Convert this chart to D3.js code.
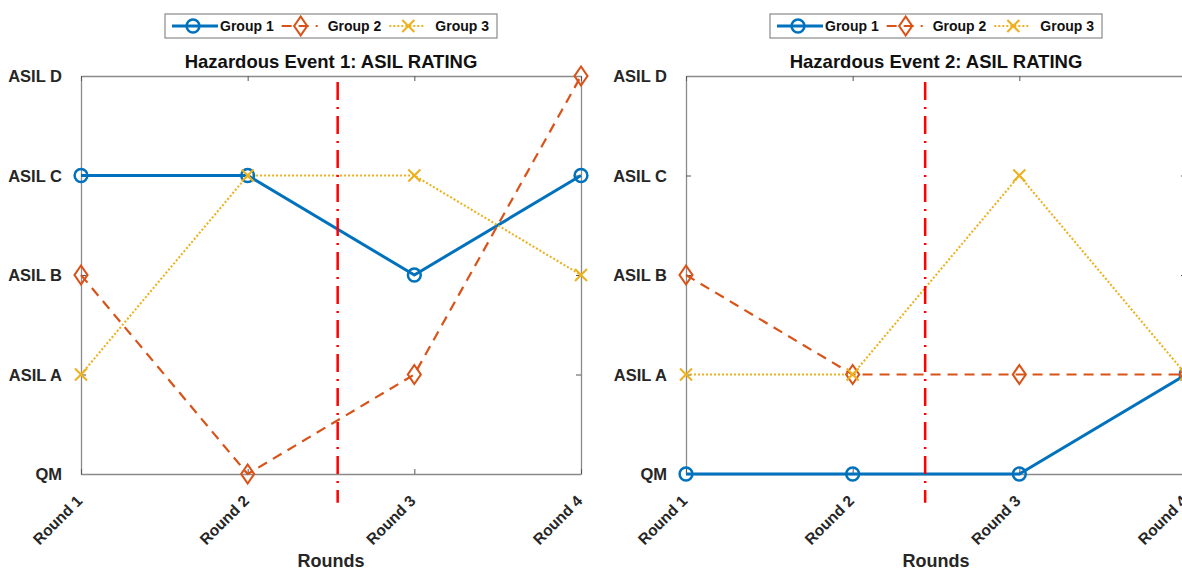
<!DOCTYPE html>
<html>
<head>
<meta charset="utf-8">
<script src="https://cdn.jsdelivr.net/npm/d3@7"></script>
<style>
  html, body { margin: 0; padding: 0; background: #fff; }
  svg { display: block; font-family: "Liberation Sans", Arial, Helvetica, sans-serif; }
</style>
</head>
<body>
<svg id="chart" width="1182" height="570"></svg>
<script>
// Rating levels (0 = QM ... 4 = ASIL D) and round labels
const ratingLabels = ["QM", "ASIL A", "ASIL B", "ASIL C", "ASIL D"];
const rounds = ["Round 1", "Round 2", "Round 3", "Round 4"];
const groupNames = ["Group 1", "Group 2", "Group 3"];

// Hazardous Event 1 ratings per round
const event1Group1 = [3, 3, 2, 3];
const event1Group2 = [2, 0, 1, 4];
const event1Group3 = [1, 3, 3, 2];

// Hazardous Event 2 ratings per round
const event2Group1 = [0, 0, 0, 1];
const event2Group2 = [2, 1, 1, 1];
const event2Group3 = [1, 1, 3, 1];

const titles = ["Hazardous Event 1: ASIL RATING", "Hazardous Event 2: ASIL RATING"];
const xAxisLabel = "Rounds";
// Divider between round 2 and round 3 (x position per panel, vertical extent in rating units)
const dividerX = [2.54, 2.435];
const dividerSpan = [-0.29, 3.94];

const colors = ["#0072BD", "#D95319", "#EDB120"];
const textColor = "#262626";
const boxColor = "#8a8a8a";

const panels = [
  { left: 81, right: 581, legendX: 165, series: [event1Group1, event1Group2, event1Group3], title: titles[0], divider: dividerX[0] },
  { left: 686, right: 1186, legendX: 770, series: [event2Group1, event2Group2, event2Group3], title: titles[1], divider: dividerX[1] }
];
const plotTop = 76, plotBottom = 474;

const svg = d3.select("#chart");

// Marker shapes
function drawMarker(g, kind, x, y, color) {
  if (kind === 0) {
    g.append("circle").attr("cx", x).attr("cy", y).attr("r", 6.4)
      .attr("fill", "none").attr("stroke", color).attr("stroke-width", 2.5);
  } else if (kind === 1) {
    g.append("path")
      .attr("d", `M${x},${y - 9.5}L${x + 6.5},${y}L${x},${y + 9.5}L${x - 6.5},${y}Z`)
      .attr("fill", "none").attr("stroke", color).attr("stroke-width", 2.1);
  } else {
    const s = 6;
    g.append("path")
      .attr("d", `M${x - s},${y - s}L${x + s},${y + s}M${x - s},${y + s}L${x + s},${y - s}`)
      .attr("fill", "none").attr("stroke", color).attr("stroke-width", 2.1);
  }
}

const lineStyles = [
  { width: 3, dash: null },
  { width: 2.2, dash: "10,7" },
  { width: 2.1, dash: "2,2" }
];

panels.forEach(p => {
  const x = d3.scalePoint().domain(rounds).range([p.left, p.right]);
  const xl = d3.scaleLinear().domain([1, rounds.length]).range([p.left, p.right]);
  const y = d3.scaleLinear().domain([0, ratingLabels.length - 1]).range([plotBottom, plotTop]);
  const g = svg.append("g");

  // Axes box with inward ticks on all sides
  const axL = d3.axisLeft(y).tickValues(d3.range(ratingLabels.length))
    .tickFormat(d => ratingLabels[d]).tickSizeInner(-5).tickSizeOuter(0).tickPadding(19);
  const axR = d3.axisRight(y).tickValues(d3.range(ratingLabels.length))
    .tickFormat("").tickSizeInner(-5).tickSizeOuter(0);
  const axB = d3.axisBottom(x).tickSizeInner(-5).tickSizeOuter(0).tickFormat("");
  const axT = d3.axisTop(x).tickSizeInner(-5).tickSizeOuter(0).tickFormat("");

  const gl = g.append("g").attr("transform", `translate(${p.left},0)`).call(axL);
  g.append("g").attr("transform", `translate(${p.right},0)`).call(axR);
  const gb = g.append("g").attr("transform", `translate(0,${plotBottom})`).call(axB);
  g.append("g").attr("transform", `translate(0,${plotTop})`).call(axT);

  g.selectAll(".domain").attr("stroke", boxColor).attr("stroke-width", 1.3);
  g.selectAll(".tick line").attr("stroke", "#555").attr("stroke-width", 1);
  gl.selectAll("text").attr("font-size", 16.5).attr("font-weight", "bold")
    .attr("fill", textColor).attr("dy", "0.35em");

  // Rotated round labels
  gb.selectAll(".tick").append("text")
    .attr("transform", "translate(-2,24) rotate(-45)")
    .attr("text-anchor", "end")
    .attr("font-size", 15.5).attr("font-weight", "bold").attr("fill", textColor)
    .attr("dy", "0.35em")
    .text(d => d);

  // Title and x label
  const cx = (p.left + p.right) / 2;
  g.append("text").attr("x", cx).attr("y", 67.5).attr("text-anchor", "middle")
    .attr("font-size", 18.5).attr("font-weight", "bold").attr("fill", "#111").text(p.title);
  g.append("text").attr("x", cx).attr("y", 567).attr("text-anchor", "middle")
    .attr("font-size", 18).attr("font-weight", "bold").attr("fill", textColor).text(xAxisLabel);

  // Series lines and markers
  p.series.forEach((vals, i) => {
    const line = d3.line().x((d, k) => x(rounds[k])).y(d => y(d));
    g.append("path").datum(vals).attr("d", line)
      .attr("fill", "none").attr("stroke", colors[i])
      .attr("stroke-width", lineStyles[i].width)
      .attr("stroke-dasharray", lineStyles[i].dash)
      .attr("stroke-linejoin", "round");
  });
  p.series.forEach((vals, i) => {
    vals.forEach((v, k) => drawMarker(g, i, x(rounds[k]), y(v), colors[i]));
  });

  // Red dash-dot divider
  g.append("line")
    .attr("x1", xl(p.divider)).attr("x2", xl(p.divider))
    .attr("y1", y(dividerSpan[1])).attr("y2", y(dividerSpan[0]))
    .attr("stroke", "#FF0000").attr("stroke-width", 2.5)
    .attr("stroke-dasharray", "18,7,2,7");

  // Legend
  const lg = svg.append("g").attr("transform", `translate(${p.legendX},14)`);
  const box = lg.append("rect").attr("x", 0).attr("y", 0).attr("height", 24)
    .attr("fill", "#fff").attr("stroke", "#8a8a8a").attr("stroke-width", 1.2);
  let cur = 7;
  groupNames.forEach((name, i) => {
    const sampleLen = i === 0 ? 46 : 36;
    const gap = i === 0 ? 2 : 10;
    const ly = 12;
    lg.append("line").attr("x1", cur).attr("x2", cur + sampleLen)
      .attr("y1", ly).attr("y2", ly)
      .attr("stroke", colors[i]).attr("stroke-width", lineStyles[i].width)
      .attr("stroke-dasharray", lineStyles[i].dash);
    drawMarker(lg, i, cur + sampleLen / 2 + (i === 0 ? -2 : 1), ly, colors[i]);
    const t = lg.append("text").attr("x", cur + sampleLen + gap).attr("y", ly)
      .attr("dy", "0.35em").attr("font-size", 14).attr("font-weight", "bold")
      .attr("fill", "#111").text(name);
    cur = cur + sampleLen + gap + t.node().getComputedTextLength() + 8;
  });
  box.attr("width", 332);
});
</script>
</body>
</html>
